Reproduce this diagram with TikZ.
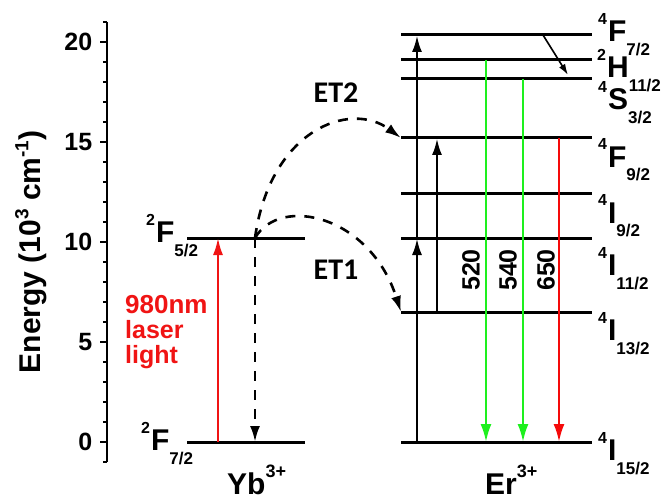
\documentclass[tikz,border=0pt]{standalone}
\usepackage{fontspec}
\setmainfont{Liberation Sans}
\newfontfamily\etfont{Carlito}
\usepackage{xcolor}
\usetikzlibrary{arrows.meta, positioning}
\definecolor{laserred}{RGB}{240,20,20}
\definecolor{emgreen}{RGB}{30,240,30}
\definecolor{emred}{RGB}{245,10,10}
\newcommand\fsz[1]{\fontsize{#1}{#1}\selectfont}
\newcommand\term[3]{\raisebox{17pt}{\fsz{16}#1}\kern1pt#2\raisebox{-14pt}{\fsz{17}#3}}
\tikzset{
  lvline/.style={line width=3pt},
  axisline/.style={line width=2pt},
  pump/.style={-{Latex[length=17pt,width=10pt]}, line width=2.8pt},
  emit/.style={-{Latex[length=18pt,width=11pt]}, line width=2.3pt},
  nonrad/.style={-{Latex[length=11pt,width=7pt]}, line width=1.6pt},
  etarrow/.style={-{Latex[length=16pt,width=10pt]}, line width=2.6pt, dash pattern=on 10pt off 9pt},
  ticklab/.style={font=\bfseries\fsz{25}, inner sep=0pt},
  termlab/.style={font=\bfseries\fsz{30}, inner sep=0pt, anchor=base west},
  ionlab/.style={font=\bfseries\fsz{30}, inner sep=0pt, anchor=base west},
  wavelab/.style={font=\bfseries\fsz{25}, inner sep=0pt, rotate=90},
  etlab/.style={font=\etfont\bfseries\fsz{30}, inner sep=0pt}
}

\begin{document}
\begin{tikzpicture}[x=1pt, y=20pt]
  \useasboundingbox (0,-2.85) rectangle (662,22.1);

  % energy axis
  \draw[axisline] (107,-1) -- (107,21);
  \foreach \e in {-1,...,21}
    \draw[line width=1.5pt] (107,\e) -- ++(-4,0);
  \foreach \e in {0,5,...,20}
    \draw[line width=1.5pt] (107,\e) -- ++(-7,0) node[ticklab, anchor=east, xshift=-7pt] {\e};
  \node[font=\bfseries\fsz{30}, rotate=90, inner sep=0pt] (ylab) at (31,9.5)
    {Energy (10\raisebox{12pt}{\fsz{19}3} cm\raisebox{12pt}{\fsz{19}-1})};

  % Yb levels
  \coordinate (ybg) at (187,0);
  \coordinate (ybe) at (187,10.2);
  \draw[lvline] (ybg) -- (305,0);
  \draw[lvline] (ybe) -- (305,10.2);
  \node[termlab] (tybe) at (146,10.0) {\term{2}{F}{5/2}};
  \node[termlab] (tybg) at (141,-0.4) {\term{2}{F}{7/2}};
  \node[ionlab] (yb) at (227,-2.6) {Yb\raisebox{17pt}{\fsz{18}3+}};

  % Er levels
  \foreach \n/\e in {I15/0, I13/6.5, I11/10.2, I9/12.45, F9/15.2, S3/18.15, H11/19.1, F7/20.35} {
    \coordinate (er\n) at (401,\e);
    \draw[lvline] (er\n) -- (592,\e);
  }
  \node[termlab] (tF7)  at (598,20.0)  {\term{4}{F}{7/2}};
  \node[termlab] (tH11) at (597,18.2)  {\term{2}{H}{11/2}};
  \node[termlab] (tS3)  at (598,16.6)  {\term{4}{S}{3/2}};
  \node[termlab] (tF9)  at (598,13.75) {\term{4}{F}{9/2}};
  \node[termlab] (tI9)  at (598,10.95) {\term{4}{I}{9/2}};
  \node[termlab] (tI11) at (598,8.35)  {\term{4}{I}{11/2}};
  \node[termlab] (tI13) at (598,5.1)   {\term{4}{I}{13/2}};
  \node[termlab] (tI15) at (598,-0.9)  {\term{4}{I}{15/2}};
  \node[ionlab] (er) at (485,-2.6) {Er\raisebox{17pt}{\fsz{18}3+}};

  % x positions of the transitions
  \coordinate (xlaser) at (218,0);
  \coordinate (xback)  at (255,0);
  \coordinate (xup1)   at (417,0);
  \coordinate (xup2)   at (437,0);
  \coordinate (x520)   at (486,0);
  \coordinate (x540)   at (523,0);
  \coordinate (x650)   at (559,0);

  % Yb excitation and decay
  \draw[pump, laserred, line width=2.2pt] (xlaser |- ybg) -- (xlaser |- ybe);
  \node[font=\bfseries\fsz{25}, text=laserred, align=left, inner sep=0pt, anchor=north west] (laser)
    at (125,7.35) {\fontsize{26}{32}\selectfont 980nm\\laser\\light};
  \draw[etarrow] (xback |- ybe) -- (xback |- ybg);

  % energy transfer
  \draw[etarrow] (xback |- ybe) .. controls (270,15.6) and (350,17.1) .. (erF9);
  \draw[etarrow] (xback |- ybe) .. controls (280,12.35) and (370,11.35) .. (erI13);
  \node[etlab] (et2) at (336,17.45) {ET2};
  \node[etlab] (et1) at (336,8.6) {ET1};

  % Er pumping
  \draw[pump] (xup1 |- erI15) -- (xup1 |- erI11);
  \draw[pump] (xup1 |- erI11) -- (xup1 |- erF7);
  \draw[pump] (xup2 |- erI13) -- (xup2 |- erF9);
  \draw[nonrad] (543,20.35) coordinate (nrA) -- (568,18.35) coordinate (nrB);

  % emission
  \draw[emit, emgreen] (x520 |- erH11) -- (x520 |- erI15);
  \draw[emit, emgreen] (x540 |- erS3) -- (x540 |- erI15);
  \draw[emit, emred] (x650 |- erF9) -- (x650 |- erI15);
  \node[wavelab] (l520) at (471,8.6) {520};
  \node[wavelab] (l540) at (508,8.6) {540};
  \node[wavelab] (l650) at (546,8.6) {650};
\end{tikzpicture}
\end{document}
